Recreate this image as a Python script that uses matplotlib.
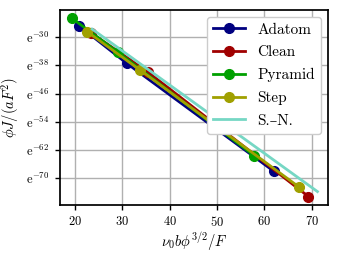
import numpy as np
import matplotlib
matplotlib.use('Agg')
import matplotlib.pyplot as plt

plt.rcParams['mathtext.fontset'] = 'cm'
plt.rcParams['font.family'] = ['cmr10', 'DejaVu Serif']
plt.rcParams['axes.unicode_minus'] = False

# x = nu0 b phi^(3/2) / F ; y = ln(phi J / (a F^2))
x_adatom = [20.85, 30.9, 62.05]
y_adatom = [-26.8, -37.4, -68.1]
x_clean = [23.3, 35.3, 69.3]
y_clean = [-28.7, -39.8, -75.2]
x_pyramid = [19.3, 29.1, 57.8]
y_pyramid = [-24.6, -34.3, -63.6]
x_step = [22.5, 33.7, 67.2]
y_step = [-28.4, -39.3, -72.4]
x_sn = [23.6, 71.2]
y_sn = [-27.7, -73.8]

xticks = [20, 30, 40, 50, 60, 70]
yticks = [-30, -38, -46, -54, -62, -70]

fig = plt.figure(figsize=(3.38, 2.54), dpi=100)
ax = fig.add_axes([0.1775, 0.193, 0.7925, 0.768])

ax.plot(x_adatom, y_adatom, '-o', color='#000080', lw=2, ms=7, label='Adatom')
ax.plot(x_clean, y_clean, '-o', color='#a00000', lw=2, ms=7, label='Clean')
ax.plot(x_pyramid, y_pyramid, '-o', color='#00a000', lw=2, ms=7, label='Pyramid')
ax.plot(x_step, y_step, '-o', color='#a0a000', lw=2, ms=7, label='Step')
ax.plot(x_sn, y_sn, '-', color='#76d7c4', lw=2, label='S.\u2013N.')

ax.set_xlim(16.8, 73.4)
ax.set_ylim(-77.6, -22.25)
ax.set_xticks(xticks)
ax.set_xticklabels(['$%d$' % t for t in xticks])
ax.set_yticks(yticks)
ax.set_yticklabels([r'$\mathrm{e}^{%d}$' % t for t in yticks])
ax.tick_params(labelsize=9, direction='out', length=3.5, width=1, pad=4)
ax.grid(True, color='#b0b0b0', lw=1)
ax.set_axisbelow(True)
for s in ax.spines.values():
    s.set_linewidth(1.25)

ax.set_xlabel(r'$\nu_0 b\phi^{3/2}/F$', fontsize=10.5, labelpad=1)
ax.set_ylabel(r'$\phi J/(aF^2)$', fontsize=10.5, labelpad=4)

ax.legend(loc='upper right', fontsize=11, framealpha=1, handlelength=2.1,
          labelspacing=0.58, borderaxespad=0.45)

fig.savefig('out.png', dpi=100)
